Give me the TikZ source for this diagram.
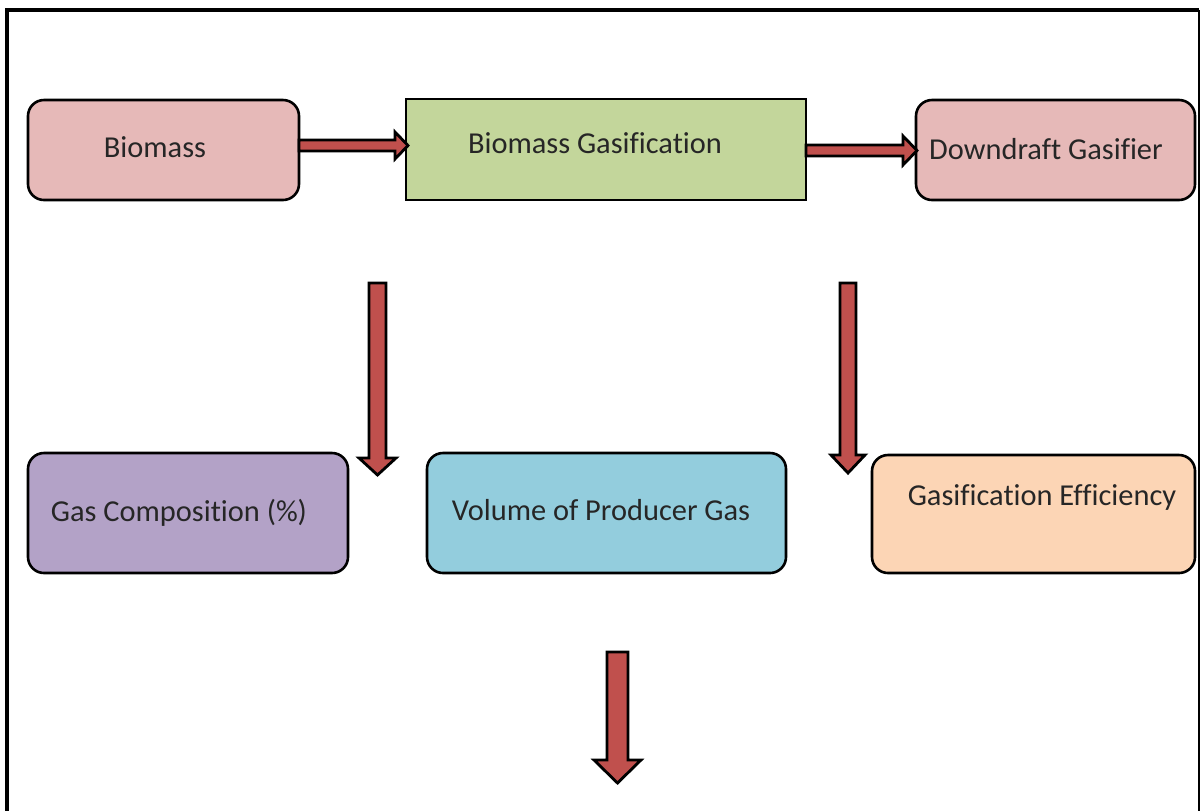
\documentclass[tikz,border=0pt]{standalone}
\usepackage{fontspec}
\setmainfont[Ligatures=NoCommon]{Carlito}
\begin{document}
\begin{tikzpicture}[x=0.5pt,y=-0.5pt,
  box/.style={draw=black,line width=1.3pt,rounded corners=8pt},
  sqbox/.style={draw=black,line width=1.3pt},
  lbl/.style={inner sep=0pt,font=\fontsize{15.2}{18}\selectfont,text=black!85},
  fatarrow/.style={draw=black,line width=1.4pt,fill=arrowred,line join=miter},
  frame/.style={draw=black,line width=2pt}]
\definecolor{arrowred}{HTML}{C0504D}
\definecolor{pinkbox}{HTML}{E6B9B8}
\definecolor{greenbox}{HTML}{C3D69B}
\definecolor{purplebox}{HTML}{B3A2C7}
\definecolor{bluebox}{HTML}{93CDDD}
\definecolor{orangebox}{HTML}{FCD5B5}
\useasboundingbox (0,0) rectangle (1202,810);
\begin{scope}
\clip (0,0) rectangle (1202,810);
% frame
\draw[frame] (7,830) -- (7,10) -- (1199,10);
\draw[black,line width=0.8pt] (1199,10) -- (1199,830);
% boxes
\path[box,fill=pinkbox] (28,100) rectangle (299,200);
\node[inner sep=0pt] (bio) at (163.5,150) {};
\path[sqbox,fill=greenbox] (406,99) rectangle (806,200);
\node[inner sep=0pt] (gas) at (606,150) {};
\path[box,fill=pinkbox] (916,100) rectangle (1195,200);
\node[inner sep=0pt] (down) at (1055,150) {};
\path[box,fill=purplebox] (28,453) rectangle (348,573);
\path[box,fill=bluebox] (427,453) rectangle (786,573);
\path[box,fill=orangebox] (872,455) rectangle (1195,573);
% labels
\node[lbl] (tbio) at (155,147) {Biomass};
\node[lbl] (tgas) at (595,143) {Biomass Gasification};
\node[lbl] (tdown) at (1046,149) {Downdraft Gasifier};
\node[lbl] (tcomp) at (179,513) {Gas Composition (\%)};
\node[lbl] (tvol) at (601,510) {Volume of Producer Gas};
\node[lbl] (teff) at (1042,497) {Gasification Efficiency};
% horizontal arrows
\draw[fatarrow] (299,140) -- (395,140) -- (395,132) -- (408,145.5) -- (395,159) -- (395,151) -- (299,151) -- cycle;
\draw[fatarrow] (806,145) -- (903,145) -- (903,136) -- (917,150.5) -- (903,165) -- (903,156) -- (806,156) -- cycle;
% vertical arrows
\draw[fatarrow] (369,283) -- (386,283) -- (386,458) -- (396,458) -- (377.5,475) -- (359,458) -- (369,458) -- cycle;
\draw[fatarrow] (840,283) -- (856,283) -- (856,455) -- (865,455) -- (848,473) -- (831,455) -- (840,455) -- cycle;
\draw[fatarrow] (607,652) -- (628,652) -- (628,760) -- (641,760) -- (617.5,783) -- (594,760) -- (607,760) -- cycle;
\end{scope}
\end{tikzpicture}
\end{document}
